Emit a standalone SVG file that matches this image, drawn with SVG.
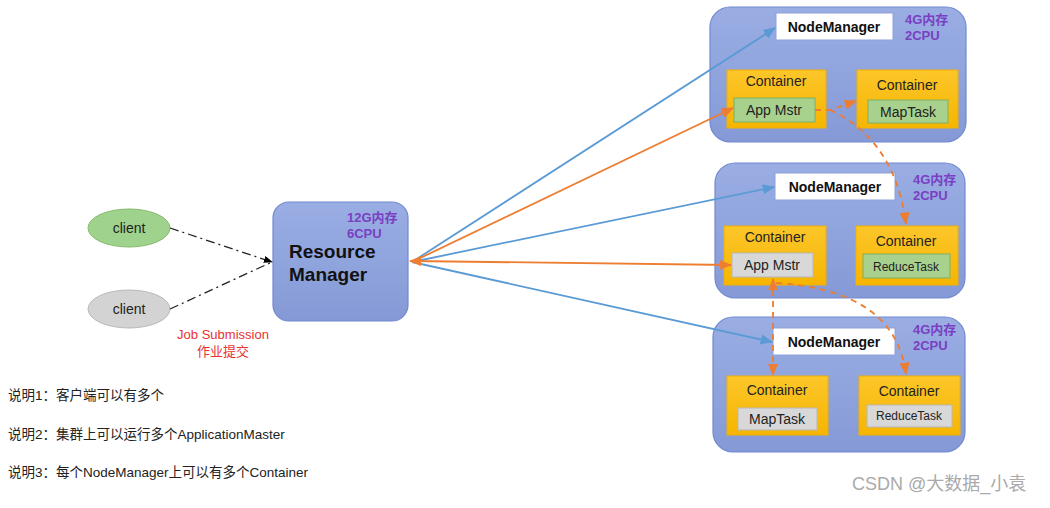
<svg xmlns="http://www.w3.org/2000/svg" width="1050" height="508" viewBox="0 0 1050 508">
<defs>
<linearGradient id="gy" x1="0" y1="0" x2="0" y2="1"><stop offset="0" stop-color="#fcc62a"/><stop offset="1" stop-color="#f6b500"/></linearGradient>
<linearGradient id="gb" x1="0" y1="0" x2="0" y2="1"><stop offset="0" stop-color="#9aaee4"/><stop offset="1" stop-color="#8599d6"/></linearGradient>
<marker id="ab" viewBox="0 0 10 10" refX="9" refY="5" markerWidth="7" markerHeight="7" orient="auto-start-reverse"><path d="M0,1 L10,5 L0,9 z" fill="#5b9bd5"/></marker>
<marker id="ao" viewBox="0 0 10 10" refX="9" refY="5" markerWidth="7" markerHeight="7" orient="auto-start-reverse"><path d="M0,1 L10,5 L0,9 z" fill="#ed7d31"/></marker>
<marker id="ak" viewBox="0 0 10 10" refX="9" refY="5" markerWidth="7" markerHeight="7" orient="auto"><path d="M0,1 L10,5 L0,9 z" fill="#000"/></marker>
<style>
text{font-family:"Liberation Sans","Noto Sans CJK SC",sans-serif;}
.node{fill:url(#gb);stroke:#7189d0;stroke-width:1.2;}
.nm{fill:#fff;stroke:#8ea0d8;stroke-width:1;}
.nmt{font-size:14px;font-weight:bold;fill:#111;text-anchor:middle;}
.res{font-size:13px;font-weight:bold;fill:#7a3fc2;}
.cont{fill:url(#gy);stroke:#f0b000;stroke-width:1;}
.ct{font-size:14px;fill:#222;text-anchor:middle;}
.grn{fill:#a9d18e;stroke:#7fb060;stroke-width:1;}
.gry{fill:#d8d8d8;stroke:#b8b8b8;stroke-width:1;}
.it{font-size:14px;fill:#222;text-anchor:middle;}
.its{font-size:12px;fill:#222;text-anchor:middle;}
.blue{stroke:#5b9bd5;stroke-width:1.8;fill:none;marker-end:url(#ab);}
.org{stroke:#ed7d31;stroke-width:1.8;fill:none;}
.dsh{stroke:#ed7d31;stroke-width:1.8;fill:none;stroke-dasharray:6,5;}
.dd{stroke:#222;stroke-width:1.3;fill:none;stroke-dasharray:9,4,2,4;}
.note{font-size:13.5px;fill:#222;}
</style>
</defs>
<rect width="1050" height="508" fill="#fff"/>

<g id="resource-manager">
<rect x="273" y="202" width="135" height="119" rx="16" class="node"/>
<text x="347" y="222" class="res">12G内存</text>
<text x="347" y="238" class="res">6CPU</text>
<text x="289" y="258" font-size="19" font-weight="bold" fill="#111">Resource</text>
<text x="289" y="281" font-size="19" font-weight="bold" fill="#111">Manager</text>
</g>

<g id="client1">
<ellipse cx="129" cy="228" rx="41" ry="19" fill="#9fd28c" stroke="#86bb6c" stroke-width="1"/>
<text x="129" y="233" font-size="14" fill="#222" text-anchor="middle">client</text>
</g>
<g id="client2">
<ellipse cx="129" cy="309" rx="41" ry="19" fill="#d3d3d3" stroke="#b9b9b9" stroke-width="1"/>
<text x="129" y="314" font-size="14" fill="#222" text-anchor="middle">client</text>
</g>

<g id="node1">
<rect x="710" y="7" width="256" height="135" rx="20" class="node"/>
<rect x="776" y="13" width="117" height="27" class="nm"/>
<text x="834" y="32" class="nmt">NodeManager</text>
<text x="905" y="24" class="res">4G内存</text>
<text x="905" y="40" class="res">2CPU</text>
<rect x="727" y="70" width="99" height="58" class="cont"/>
<text x="776" y="86" class="ct">Container</text>
<rect x="734" y="98" width="81" height="24" class="grn"/>
<text x="774" y="115" class="it">App Mstr</text>
<rect x="857" y="70" width="101" height="58" class="cont"/>
<text x="907" y="90" class="ct">Container</text>
<rect x="868" y="100" width="80" height="23" class="grn"/>
<text x="908" y="117" class="it">MapTask</text>
</g>

<g id="node2">
<rect x="715" y="163" width="250" height="135" rx="20" class="node"/>
<rect x="775" y="173" width="120" height="27" class="nm"/>
<text x="835" y="192" class="nmt">NodeManager</text>
<text x="913" y="184" class="res">4G内存</text>
<text x="913" y="200" class="res">2CPU</text>
<rect x="724" y="226" width="102" height="59" class="cont"/>
<text x="775" y="242" class="ct">Container</text>
<rect x="732" y="253" width="81" height="24" class="gry"/>
<text x="772" y="270" class="it">App Mstr</text>
<rect x="856" y="226" width="102" height="59" class="cont"/>
<text x="906" y="246" class="ct">Container</text>
<rect x="863" y="254" width="87" height="24" class="grn"/>
<text x="906" y="271" class="its">ReduceTask</text>
</g>

<g id="node3">
<rect x="713" y="317" width="252" height="135" rx="20" class="node"/>
<rect x="773" y="328" width="122" height="27" class="nm"/>
<text x="834" y="347" class="nmt">NodeManager</text>
<text x="913" y="334" class="res">4G内存</text>
<text x="913" y="350" class="res">2CPU</text>
<rect x="727" y="376" width="101" height="59" class="cont"/>
<text x="777" y="395" class="ct">Container</text>
<rect x="738" y="408" width="79" height="22" class="gry"/>
<text x="777" y="424" class="it">MapTask</text>
<rect x="859" y="376" width="101" height="59" class="cont"/>
<text x="909" y="396" class="ct">Container</text>
<rect x="867" y="405" width="85" height="22" class="gry"/>
<text x="909" y="420" class="its">ReduceTask</text>
</g>

<g id="connectors">
<path d="M170,228 L272,262" class="dd" marker-end="url(#ak)"/>
<path d="M170,309 L272,262" class="dd"/>
<path d="M412,262 L775,28" class="blue"/>
<path d="M412,262 L774,187" class="blue"/>
<path d="M412,262 L772,342" class="blue"/>
<path d="M733,108 L412,262" class="org" marker-start="url(#ao)"/>
<path d="M731,265 L410,261" class="org" marker-start="url(#ao)" marker-end="url(#ao)"/>
<path d="M815,110 L830,110 L856,101" class="dsh" marker-end="url(#ao)"/>
<path d="M830,110 Q895,140 906,224" class="dsh" marker-end="url(#ao)"/>
<path d="M773,279 L773,375" class="dsh" marker-start="url(#ao)" marker-end="url(#ao)"/>
<path d="M776,283 Q895,290 906,374" class="dsh" marker-end="url(#ao)"/>
</g>

<g id="labels">
<text x="223" y="339" font-size="13" fill="#e8312f" text-anchor="middle">Job Submission</text>
<text x="223" y="356" font-size="13" fill="#e8312f" text-anchor="middle">作业提交</text>
<text x="8" y="400" class="note">说明1：客户端可以有多个</text>
<text x="8" y="439" class="note">说明2：集群上可以运行多个ApplicationMaster</text>
<text x="8" y="477" class="note">说明3：每个NodeManager上可以有多个Container</text>
<text x="852" y="490" font-size="18" fill="#aaa">CSDN @大数据_小袁</text>
</g>
</svg>
